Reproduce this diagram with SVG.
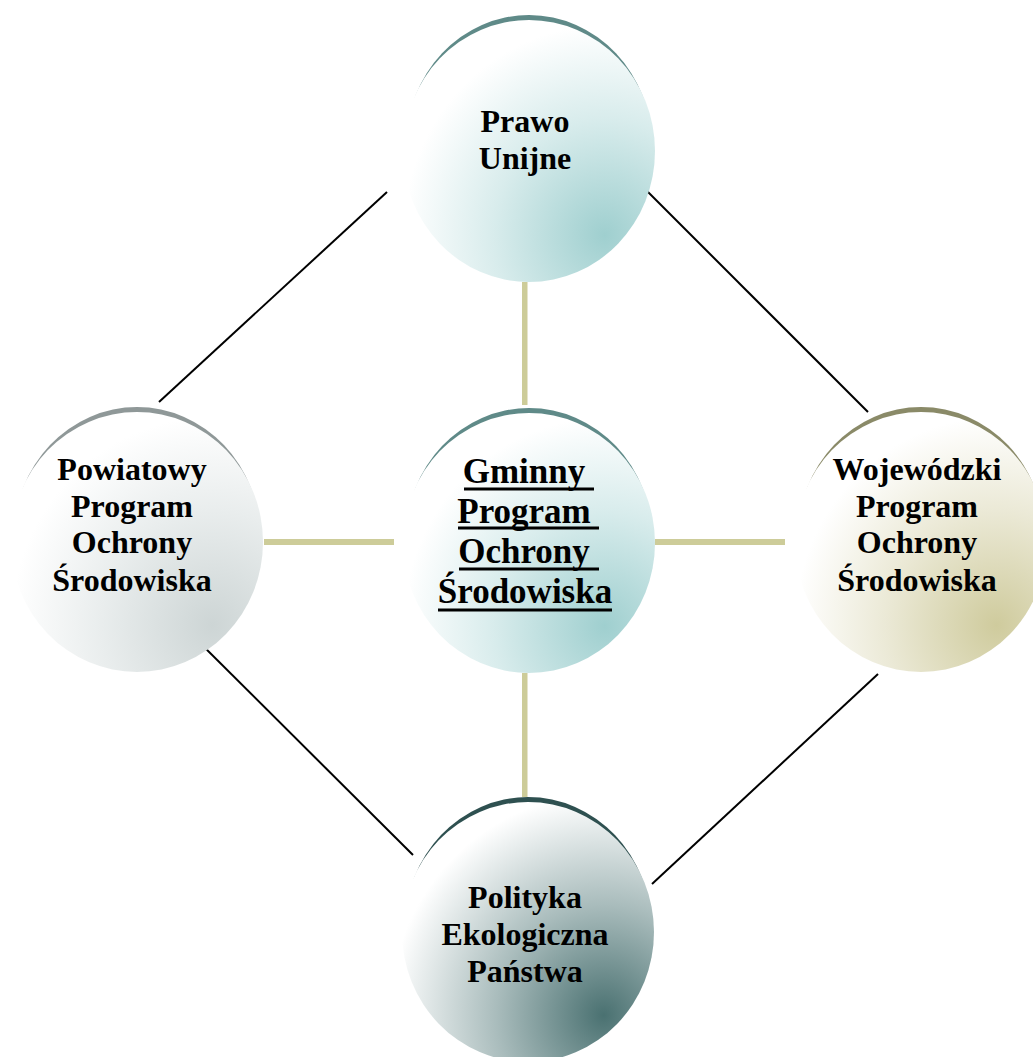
<svg xmlns="http://www.w3.org/2000/svg" width="1033" height="1057" viewBox="0 0 1033 1057">
<defs>
<radialGradient id="gTeal" cx="0.8" cy="0.82" r="0.8" fx="0.8" fy="0.82">
<stop offset="0" stop-color="#9fcfcf"/><stop offset="0.55" stop-color="#d8ecec"/><stop offset="1" stop-color="#ffffff"/>
</radialGradient>
<radialGradient id="gGray" cx="0.8" cy="0.82" r="0.8" fx="0.8" fy="0.82">
<stop offset="0" stop-color="#cdd5d5"/><stop offset="0.55" stop-color="#e9eded"/><stop offset="1" stop-color="#ffffff"/>
</radialGradient>
<radialGradient id="gOlive" cx="0.8" cy="0.82" r="0.8" fx="0.8" fy="0.82">
<stop offset="0" stop-color="#cfcb9d"/><stop offset="0.55" stop-color="#ebe9d6"/><stop offset="1" stop-color="#ffffff"/>
</radialGradient>
<radialGradient id="gDark" cx="0.8" cy="0.82" r="0.85" fx="0.8" fy="0.82">
<stop offset="0" stop-color="#4a7171"/><stop offset="0.5" stop-color="#a9bcbc"/><stop offset="1" stop-color="#ffffff"/>
</radialGradient>
</defs>
<style>
.t{font-family:"Liberation Serif","Times New Roman",serif;font-weight:bold;font-size:32px;fill:#000;text-anchor:middle}
.tc{font-size:35px}
.bar{fill:#cdcc99}
.ln{stroke:#000;stroke-width:2;fill:none}
.ul{fill:#000}
</style>
<rect width="1033" height="1057" fill="#fff"/>
<g id="connectors">
<rect class="bar" x="522" y="282" width="5.5" height="123"/>
<rect class="bar" x="522" y="673" width="5.5" height="124"/>
<rect class="bar" x="264" y="539" width="130" height="6"/>
<rect class="bar" x="655" y="539" width="130" height="6"/>
<line class="ln" x1="387" y1="192" x2="159" y2="402"/>
<line class="ln" x1="639" y1="183" x2="868" y2="412"/>
<line class="ln" x1="183" y1="626" x2="413" y2="855"/>
<line class="ln" x1="878" y1="674" x2="652" y2="884"/>
</g>
<g id="node-prawo">
<ellipse cx="529" cy="146" rx="123" ry="131" fill="#5f8a88"/>
<ellipse cx="529" cy="151" rx="126" ry="131" fill="url(#gTeal)"/>
<text class="t" x="525" y="132">Prawo</text>
<text class="t" x="525" y="169">Unijne</text>
</g>
<g id="node-gminny">
<ellipse cx="529" cy="538" rx="123" ry="130" fill="#5f8a88"/>
<ellipse cx="529" cy="543" rx="126" ry="130" fill="url(#gTeal)"/>
<text class="t tc" x="524" y="483">Gminny</text>
<text class="t tc" x="524" y="523">Program</text>
<text class="t tc" x="524" y="563">Ochrony</text>
<text class="t tc" x="525" y="603">Środowiska</text>
<rect class="ul" x="464" y="487.5" width="130" height="3"/>
<rect class="ul" x="458" y="526.5" width="141" height="3"/>
<rect class="ul" x="459" y="567.5" width="140" height="3"/>
<rect class="ul" x="438" y="608.5" width="174" height="3"/>
</g>
<g id="node-powiatowy">
<ellipse cx="137" cy="537" rx="123" ry="130" fill="#8f9898"/>
<ellipse cx="137" cy="542" rx="126" ry="130" fill="url(#gGray)"/>
<text class="t" x="132" y="480">Powiatowy</text>
<text class="t" x="132" y="517">Program</text>
<text class="t" x="132" y="553">Ochrony</text>
<text class="t" x="132" y="591">Środowiska</text>
</g>
<g id="node-wojewodzki">
<ellipse cx="921" cy="537" rx="123" ry="130" fill="#8a8a68"/>
<ellipse cx="921" cy="542" rx="126" ry="130" fill="url(#gOlive)"/>
<text class="t" x="917" y="480">Wojewódzki</text>
<text class="t" x="917" y="517">Program</text>
<text class="t" x="917" y="553">Ochrony</text>
<text class="t" x="917" y="591">Środowiska</text>
</g>
<g id="node-polityka">
<ellipse cx="528" cy="927" rx="123" ry="130" fill="#2e5050"/>
<ellipse cx="528" cy="932" rx="126" ry="130" fill="url(#gDark)"/>
<text class="t" x="525" y="908">Polityka</text>
<text class="t" x="525" y="945">Ekologiczna</text>
<text class="t" x="525" y="982">Państwa</text>
</g>
</svg>
